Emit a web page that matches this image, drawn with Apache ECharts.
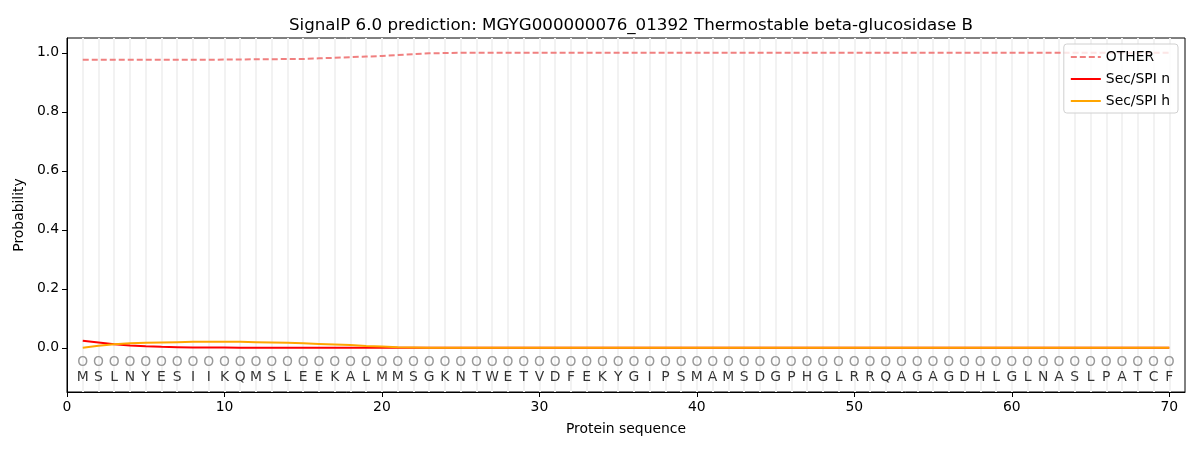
<!DOCTYPE html>
<html>
<head>
<meta charset="utf-8">
<script src="https://cdn.jsdelivr.net/npm/echarts@6/dist/echarts.min.js"></script>
<style>
  html, body { margin: 0; padding: 0; background: #fff; }
  #main { width: 1200px; height: 450px; }
</style>
</head>
<body>
<div id="main"></div>
<script>
var residues = "MSLNYESIIKQMSLEEKALMMSGKNTWETVDFEKYGIPSMAMSDGPHGLRRQAGAGDHLGLNASLPATCF".split("");
var positions = residues.map(function (r, i) { return i + 1; });

// OTHER probability per residue
var otherData = [0.976, 0.976, 0.976, 0.976, 0.976, 0.976, 0.976, 0.976, 0.976, 0.977,
  0.977, 0.978, 0.978, 0.979, 0.979, 0.981, 0.983, 0.985, 0.987, 0.989,
  0.992, 0.995, 0.998, 0.999, 1.0, 1.0, 1.0, 1.0, 1.0, 1.0,
  1.0, 1.0, 1.0, 1.0, 1.0, 1.0, 1.0, 1.0, 1.0, 1.0,
  1.0, 1.0, 1.0, 1.0, 1.0, 1.0, 1.0, 1.0, 1.0, 1.0,
  1.0, 1.0, 1.0, 1.0, 1.0, 1.0, 1.0, 1.0, 1.0, 1.0,
  1.0, 1.0, 1.0, 1.0, 1.0, 1.0, 1.0, 1.0, 1.0, 1.0];
// Sec/SPI n
var secnData = [0.024, 0.018, 0.012, 0.008, 0.005, 0.003, 0.002, 0.001, 0.001, 0.0005,
  0, 0, 0, 0, 0, 0, 0, 0, 0, 0,
  0, 0, 0, 0, 0, 0, 0, 0, 0, 0,
  0, 0, 0, 0, 0, 0, 0, 0, 0, 0,
  0, 0, 0, 0, 0, 0, 0, 0, 0, 0,
  0, 0, 0, 0, 0, 0, 0, 0, 0, 0,
  0, 0, 0, 0, 0, 0, 0, 0, 0, 0];
// Sec/SPI h
var sechData = [0.0, 0.007, 0.012, 0.015, 0.017, 0.018, 0.019, 0.02, 0.02, 0.02,
  0.02, 0.019, 0.018, 0.017, 0.015, 0.013, 0.011, 0.009, 0.006, 0.004,
  0.002, 0.001, 0, 0, 0, 0, 0, 0, 0, 0,
  0, 0, 0, 0, 0, 0, 0, 0, 0, 0,
  0, 0, 0, 0, 0, 0, 0, 0, 0, 0,
  0, 0, 0, 0, 0, 0, 0, 0, 0, 0,
  0, 0, 0, 0, 0, 0, 0, 0, 0, 0];

var xTicks = [0, 10, 20, 30, 40, 50, 60, 70];
var yTicks = [0, 0.2, 0.4, 0.6, 0.8, 1.0];

function pairs(arr) {
  return arr.map(function (v, i) { return [positions[i], v]; });
}

var chart = echarts.init(document.getElementById('main'));
var font = 'DejaVu Sans';
var option = {
  animation: false,
  textStyle: { fontFamily: font },
  title: {
    text: 'SignalP 6.0 prediction: MGYG000000076_01392 Thermostable beta-glucosidase B',
    left: 626,
    top: 12,
    textAlign: 'center',
    textStyle: { fontFamily: font, fontSize: 16.7, fontWeight: 'normal', color: '#000' }
  },
  legend: {
    right: 22,
    top: 44,
    orient: 'vertical',
    itemWidth: 30,
    itemHeight: 10,
    itemGap: 8,
    padding: [6, 8, 5, 6],
    borderColor: '#d0d0d0',
    borderWidth: 1,
    borderRadius: 3,
    backgroundColor: 'rgba(255,255,255,0.8)',
    itemStyle: { opacity: 0 },
    textStyle: { fontFamily: font, fontSize: 13.9, color: '#000' },
    data: ['OTHER', 'Sec/SPI n', 'Sec/SPI h']
  },
  grid: { left: 67, right: 15, top: 38, bottom: 58, show: true, borderColor: '#000', borderWidth: 1 },
  xAxis: {
    type: 'value',
    min: 0,
    max: 71,
    name: 'Protein sequence',
    nameLocation: 'middle',
    nameGap: 30,
    nameTextStyle: { fontFamily: font, fontSize: 13.9, color: '#000' },
    axisLine: { onZero: false, lineStyle: { color: '#000' } },
    axisTick: { show: true, customValues: xTicks, length: 5, lineStyle: { color: '#000' } },
    axisLabel: { customValues: xTicks, fontFamily: font, fontSize: 13.9, color: '#000', margin: 8 },
    splitLine: { show: false }
  },
  yAxis: {
    type: 'value',
    min: -0.15,
    max: 1.05,
    name: 'Probability',
    nameLocation: 'middle',
    nameGap: 40,
    nameTextStyle: { fontFamily: font, fontSize: 13.9, color: '#000' },
    axisLine: { show: true, onZero: false, lineStyle: { color: '#000' } },
    axisTick: { show: true, customValues: yTicks, length: 5, lineStyle: { color: '#000' } },
    axisLabel: {
      customValues: yTicks, fontFamily: font, fontSize: 13.9, color: '#000', margin: 8,
      formatter: function (v) { return v.toFixed(1); }
    },
    splitLine: { show: false }
  },
  series: [
    {
      name: 'OTHER',
      type: 'line',
      symbol: 'none',
      color: '#f08080',
      lineStyle: { color: '#f08080', width: 2, type: [6, 3] },
      data: pairs(otherData),
      z: 3,
      markLine: {
        silent: true,
        symbol: 'none',
        label: { show: false },
        lineStyle: { color: '#f2f2f2', width: 2, type: 'solid' },
        data: positions.map(function (p) { return { xAxis: p }; }),
        z: 1
      }
    },
    {
      name: 'Sec/SPI n',
      type: 'line',
      symbol: 'none',
      color: '#ff0000',
      lineStyle: { color: '#ff0000', width: 2 },
      data: pairs(secnData),
      z: 4
    },
    {
      name: 'Sec/SPI h',
      type: 'line',
      symbol: 'none',
      color: '#ffa500',
      lineStyle: { color: '#ffa500', width: 2 },
      data: pairs(sechData),
      z: 5
    },
    {
      name: 'state',
      type: 'scatter',
      symbolSize: 0,
      silent: true,
      label: {
        show: true, position: 'inside', formatter: 'O',
        fontFamily: font, fontSize: 13.9, color: '#808080'
      },
      data: positions.map(function (p) { return [p, -0.05]; })
    },
    {
      name: 'residue',
      type: 'scatter',
      symbolSize: 0,
      silent: true,
      label: {
        show: true, position: 'inside',
        formatter: function (d) { return d.value[2]; },
        fontFamily: font, fontSize: 13.9, color: '#000'
      },
      data: positions.map(function (p, i) { return [p, -0.1, residues[i]]; })
    }
  ]
};
chart.setOption(option);
</script>
</body>
</html>
